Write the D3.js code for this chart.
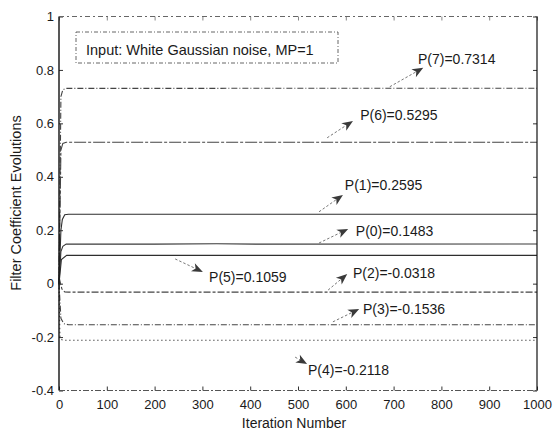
<!DOCTYPE html>
<html>
<head>
<meta charset="utf-8">
<script src="https://cdn.jsdelivr.net/npm/d3@7"></script>
<style>
  body { margin: 0; background: #fff; }
  text { font-family: "Liberation Sans", Arial, Helvetica, sans-serif; fill: #1a1a1a; }
</style>
</head>
<body>
<svg id="chart" width="555" height="432"></svg>
<script>
// ---- data -------------------------------------------------------------
const xTicks = [0, 100, 200, 300, 400, 500, 600, 700, 800, 900, 1000];
const yTicks = [-0.4, -0.2, 0, 0.2, 0.4, 0.6, 0.8, 1];
const yTickLabels = ["-0.4", "-0.2", "0", "0.2", "0.4", "0.6", "0.8", "1"];

const coefNames = ["P(0)", "P(1)", "P(2)", "P(3)", "P(4)", "P(5)", "P(6)", "P(7)"];
const finalValues = [0.1483, 0.2595, -0.0318, -0.1536, -0.2118, 0.1059, 0.5295, 0.7314];

// coefficient trajectories as [iteration, value]
const p0Curve = [[0, 0], [4, 0.12], [8, 0.140], [15, 0.148], [200, 0.1480], [330, 0.1495], [420, 0.1478], [1000, 0.1483]];
const p1Curve = [[0, 0], [4, 0.20], [7, 0.240], [12, 0.258], [20, 0.2595], [1000, 0.2595]];
const p2Curve = [[0, 0], [2, 0.01], [6, -0.020], [12, -0.031], [20, -0.0318], [1000, -0.0318]];
const p3Curve = [[0, 0], [4, -0.13], [10, -0.150], [20, -0.1536], [1000, -0.1536]];
const p4Curve = [[0, 0], [2, -0.20], [6, -0.210], [12, -0.2118], [1000, -0.2118]];
const p5Curve = [[0, 0], [5, 0.09], [16, 0.1059], [1000, 0.1059]];
const p6Curve = [[0, 0], [4, 0.50], [8, 0.525], [15, 0.529], [1000, 0.5295]];
const p7Curve = [[0, 0], [4, 0.70], [8, 0.726], [15, 0.731], [1000, 0.7314]];
const curves = [p0Curve, p1Curve, p2Curve, p3Curve, p4Curve, p5Curve, p6Curve, p7Curve];

// callouts: arrow tail, arrow head, label anchor (iteration, value)
const calloutTail = [[544, 0.152], [544, 0.269], [563, -0.024], [573, -0.143], [494, -0.275], [243, 0.0925], [561, 0.546], [692, 0.737]];
const calloutHead = [[605, 0.205], [594, 0.332], [603, 0.036], [628, -0.095], [519, -0.301], [301, 0.0438], [615, 0.609], [762, 0.808]];
const calloutText = [[621, 0.198], [598, 0.369], [615, 0.040], [636, -0.095], [521, -0.323], [314, 0.025], [630, 0.632], [751, 0.842]];

const legendLabel = "Input: White Gaussian noise, MP=1";
const xTitle = "Iteration Number";
const yTitle = "Filter Coefficient Evolutions";

// ---- layout -----------------------------------------------------------
const L = 59, R = 537, T = 16.5, B = 390.5;
const svg = d3.select("#chart");

const x = d3.scaleLinear().domain([0, 1000]).range([L, R]);
const y = d3.scaleLinear().domain([-0.4, 1]).range([B, T]);

// line styles per coefficient
const dashes = ["none", "none", "7 2 3 2", "6 2 1 2", "1.5 2.5", "none", "12 2 3 2", "6 2 1 2"];
const strokes = ["#3a3a3a", "#2e2e2e", "#444", "#444", "#555", "#2e2e2e", "#444", "#444"];

// ---- axes -------------------------------------------------------------
const xAxis = d3.axisBottom(x).tickValues(xTicks).tickFormat(d3.format("d"))
  .tickSizeInner(-4).tickSizeOuter(0).tickPadding(9.5);
const yAxis = d3.axisLeft(y).tickValues(yTicks).tickFormat((d, i) => yTickLabels[i])
  .tickSizeInner(-4).tickSizeOuter(0).tickPadding(5);

const gx = svg.append("g").attr("transform", `translate(0,${B})`).call(xAxis);
const gy = svg.append("g").attr("transform", `translate(${L},0)`).call(yAxis);
[gx, gy].forEach(g => {
  g.select(".domain").remove();
  g.selectAll("text").style("font-size", "13px").attr("fill", "#1a1a1a");
  g.selectAll("line").attr("stroke", "#333");
});

// mirrored ticks on top and right
svg.append("g").attr("transform", `translate(0,${T})`)
  .call(d3.axisTop(x).tickValues(xTicks).tickSizeInner(-4).tickSizeOuter(0).tickFormat(""))
  .call(g => { g.select(".domain").remove(); g.selectAll("line").attr("stroke", "#888"); });
svg.append("g").attr("transform", `translate(${R},0)`)
  .call(d3.axisRight(y).tickValues(yTicks).tickSizeInner(-4).tickSizeOuter(0).tickFormat(""))
  .call(g => { g.select(".domain").remove(); g.selectAll("line").attr("stroke", "#333"); });

// ---- coefficient trajectories ----------------------------------------
const line = d3.line().x(d => x(d[0])).y(d => y(d[1]));
svg.append("g").selectAll("path").data(curves).join("path")
  .attr("d", line)
  .attr("fill", "none")
  .attr("stroke", (d, i) => strokes[i])
  .attr("stroke-width", 1.1)
  .attr("stroke-dasharray", (d, i) => dashes[i]);

// ---- frame --------------------------------------------------------------
svg.append("line").attr("x1", L).attr("x2", L).attr("y1", T).attr("y2", B)
  .attr("stroke", "#111").attr("stroke-width", 1.4);
svg.append("line").attr("x1", R).attr("x2", R).attr("y1", T).attr("y2", B)
  .attr("stroke", "#111").attr("stroke-width", 1.2);
svg.append("line").attr("x1", L).attr("x2", R).attr("y1", T).attr("y2", T)
  .attr("stroke", "#666").attr("stroke-width", 1).attr("stroke-dasharray", "5 3 2 3");
svg.append("line").attr("x1", L).attr("x2", R).attr("y1", B).attr("y2", B)
  .attr("stroke", "#555").attr("stroke-width", 1).attr("stroke-dasharray", "6 2 2 2");

// ---- legend box -------------------------------------------------------
svg.append("rect").attr("x", 76).attr("y", 32).attr("width", 262).attr("height", 31)
  .attr("fill", "none").attr("stroke", "#555").attr("stroke-width", 0.9)
  .attr("stroke-dasharray", "4 2 1 2");
svg.append("text").attr("x", 86).attr("y", 55).style("font-size", "14.5px").text(legendLabel);

// ---- callouts ---------------------------------------------------------
const callouts = coefNames.map((n, i) => ({
  label: `${n}=${finalValues[i].toFixed(4)}`,
  tail: calloutTail[i], head: calloutHead[i], at: calloutText[i]
}));

const cg = svg.append("g").selectAll("g").data(callouts).join("g");
cg.each(function (d) {
  const g = d3.select(this);
  const x0 = x(d.tail[0]), y0 = y(d.tail[1]);
  const x1 = x(d.head[0]), y1 = y(d.head[1]);
  const ang = Math.atan2(y1 - y0, x1 - x0);
  const len = 11, half = 4.5, notch = 3;
  const ux = Math.cos(ang), uy = Math.sin(ang);
  const bx = x1 - ux * len, by = y1 - uy * len;
  // dashed shaft stops at the base of the head
  g.append("line").attr("x1", x0).attr("y1", y0)
    .attr("x2", bx + ux * notch).attr("y2", by + uy * notch)
    .attr("stroke", "#666").attr("stroke-width", 0.9).attr("stroke-dasharray", "2.5 2");
  const pts = [
    [x1, y1],
    [bx - uy * half, by + ux * half],
    [bx + ux * notch, by + uy * notch],
    [bx + uy * half, by - ux * half]
  ];
  g.append("path").attr("d", "M" + pts.map(p => p.join(",")).join("L") + "Z")
    .attr("fill", "#3a3a3a");
  g.append("text").attr("x", x(d.at[0])).attr("y", y(d.at[1]))
    .attr("dy", "0.36em").style("font-size", "14px").text(d.label);
});

// ---- titles -----------------------------------------------------------
svg.append("text").attr("x", 294).attr("y", 428).attr("text-anchor", "middle")
  .style("font-size", "14px").text(xTitle);
svg.append("text").attr("transform", "translate(20.5,203) rotate(-90)")
  .attr("text-anchor", "middle").style("font-size", "14.5px").text(yTitle);
</script>
</body>
</html>
